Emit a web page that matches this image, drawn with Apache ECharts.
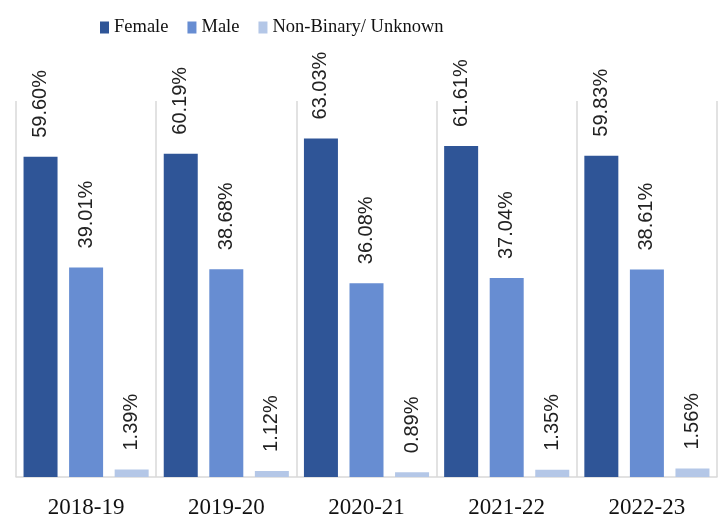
<!DOCTYPE html>
<html>
<head>
<meta charset="utf-8">
<script src="https://cdn.jsdelivr.net/npm/echarts@6/dist/echarts.min.js"></script>
<style>
  html, body { margin: 0; padding: 0; background: #fff; }
  #chart { width: 719px; height: 514px; }
</style>
</head>
<body>
<div id="chart"></div>
<script>
// academic years
const years = ['2018-19', '2019-20', '2020-21', '2021-22', '2022-23']
// share of students by gender, percent
const female = [59.60, 60.19, 63.03, 61.61, 59.83]
const male = [39.01, 38.68, 36.08, 37.04, 38.61]
const nonBinary = [1.39, 1.12, 0.89, 1.35, 1.56]

const chart = echarts.init(document.getElementById('chart'))

const labelStyle = {
  show: true,
  position: 'top',
  rotate: 90,
  align: 'left',
  verticalAlign: 'middle',
  distance: 19,
  fontFamily: 'Liberation Sans',
  fontSize: 20,
  color: '#222',
  formatter: p => p.value.toFixed(2) + '%'
}

function makeSeries(name, data, color) {
  return {
    name: name,
    type: 'bar',
    data: data,
    barWidth: 34,
    barGap: '34%',
    itemStyle: { color: color },
    label: labelStyle
  }
}

const option = {
  animation: false,
  legend: {
    left: 95,
    top: 13,
    icon: 'rect',
    itemWidth: 9,
    itemHeight: 12,
    itemGap: 19,
    textStyle: {
      fontFamily: 'Liberation Serif',
      fontSize: 18.5,
      color: '#111'
    }
  },
  grid: { left: 16, right: 2, top: 101, bottom: 37, outerBoundsMode: 'none' },
  xAxis: {
    type: 'category',
    data: years,
    axisTick: { show: false },
    axisLine: { lineStyle: { color: '#d9d9d9', width: 1.5 } },
    splitLine: { show: true, lineStyle: { color: '#d9d9d9', width: 1.5 } },
    axisLabel: {
      margin: 19,
      fontFamily: 'Liberation Serif',
      fontSize: 23,
      color: '#111'
    }
  },
  yAxis: {
    type: 'value',
    min: 0,
    max: 70,
    show: false,
    splitLine: { show: false }
  },
  series: [
    makeSeries('Female', female, '#2f5597'),
    makeSeries('Male', male, '#678dd2'),
    makeSeries('Non-Binary/ Unknown', nonBinary, '#b4c7e7')
  ]
}

chart.setOption(option)
</script>
</body>
</html>
